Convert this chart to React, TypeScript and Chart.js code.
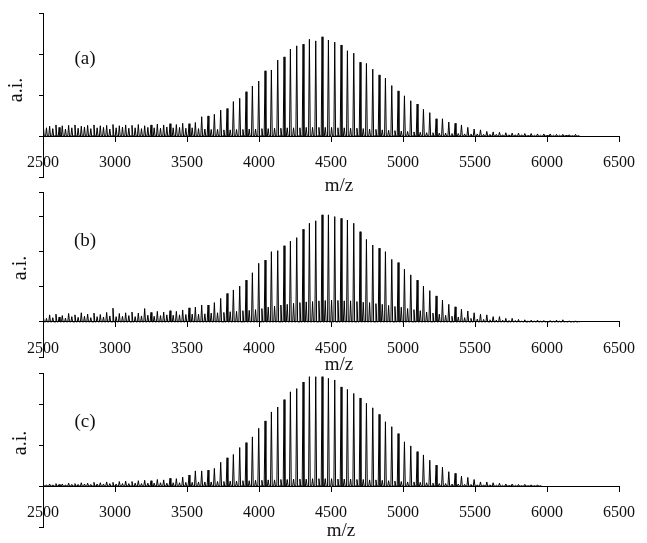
import React, { useEffect, useRef } from "react";
import { Chart, registerables } from "chart.js";

Chart.register(...registerables);

// Oligomer series positions (m/z), one entry per repeat unit
const MZ = [
  2502, 2546, 2590, 2634, 2678, 2722, 2766, 2810, 2854, 2898,
  2942, 2986, 3030, 3074, 3118, 3162, 3206, 3250, 3294, 3338,
  3382, 3426, 3470, 3514, 3558, 3602, 3646, 3690, 3734, 3778,
  3822, 3866, 3910, 3954, 3998, 4042, 4086, 4130, 4174, 4218,
  4262, 4306, 4350, 4394, 4438, 4482, 4526, 4570, 4614, 4658,
  4702, 4746, 4790, 4834, 4878, 4922, 4966, 5010, 5054, 5098,
  5142, 5186, 5230, 5274, 5318, 5362, 5406, 5450, 5494, 5538,
  5582, 5626, 5670, 5714, 5758, 5802, 5846, 5890, 5934, 5978,
  6022, 6066, 6110, 6154, 6198,
];

// Minor (adduct) series sits this many m/z units above each main peak
const ADDUCT_SHIFT = 22;

const X_TICKS = [2500, 3000, 3500, 4000, 4500, 5000, 5500, 6000, 6500];
const Y_TICKS = [-1, 0, 1, 2, 3];

// Spectrum (a)
const MAIN_A = [
  0.26, 0.24, 0.27, 0.25, 0.26, 0.27, 0.24, 0.26, 0.27, 0.25,
  0.26, 0.28, 0.25, 0.27, 0.26, 0.28, 0.25, 0.27, 0.29, 0.27,
  0.30, 0.28, 0.31, 0.30, 0.33, 0.47, 0.49, 0.53, 0.63, 0.67,
  0.84, 0.92, 1.08, 1.22, 1.34, 1.59, 1.61, 1.85, 1.93, 2.12,
  2.20, 2.24, 2.36, 2.32, 2.42, 2.34, 2.29, 2.22, 2.08, 2.02,
  1.80, 1.77, 1.63, 1.49, 1.41, 1.23, 1.10, 0.98, 0.86, 0.78,
  0.65, 0.57, 0.42, 0.42, 0.34, 0.31, 0.27, 0.21, 0.17, 0.15,
  0.11, 0.10, 0.09, 0.08, 0.07, 0.07, 0.06, 0.06, 0.05, 0.05,
  0.05, 0.04, 0.04, 0.03, 0.04,
];
const ADDUCT_A = [
  0.20, 0.18, 0.21, 0.17, 0.20, 0.19, 0.22, 0.18, 0.20, 0.21,
  0.17, 0.20, 0.22, 0.19, 0.20, 0.18, 0.21, 0.20, 0.19, 0.22,
  0.20, 0.21, 0.19, 0.20, 0.18, 0.17, 0.16, 0.16, 0.15, 0.15,
  0.16, 0.16, 0.17, 0.17, 0.18, 0.18, 0.19, 0.19, 0.20, 0.20,
  0.20, 0.21, 0.21, 0.21, 0.21, 0.21, 0.20, 0.20, 0.19, 0.19,
  0.18, 0.17, 0.16, 0.15, 0.14, 0.13, 0.12, 0.11, 0.10, 0.09,
  0.08, 0.08, 0.07, 0.07, 0.06, 0.06, 0.05, 0.05, 0.05, 0.04,
  0.04, 0.04, 0.03, 0.03, 0.03, 0.03, 0.02, 0.02, 0.02, 0.02,
  0.02, 0.02, 0.02, 0.01, 0.01,
];

// Spectrum (b)
const MAIN_B = [
  0.15, 0.20, 0.22, 0.18, 0.24, 0.20, 0.26, 0.22, 0.25, 0.21,
  0.27, 0.39, 0.24, 0.26, 0.28, 0.25, 0.38, 0.27, 0.30, 0.28,
  0.32, 0.30, 0.34, 0.40, 0.42, 0.48, 0.48, 0.55, 0.67, 0.81,
  0.91, 1.02, 1.19, 1.40, 1.67, 1.76, 2.00, 2.03, 2.17, 2.30,
  2.40, 2.64, 2.81, 2.88, 3.05, 3.05, 3.00, 2.95, 2.90, 2.81,
  2.57, 2.35, 2.19, 2.10, 2.00, 1.78, 1.69, 1.50, 1.34, 1.19,
  1.02, 0.89, 0.74, 0.62, 0.50, 0.43, 0.36, 0.31, 0.26, 0.22,
  0.20, 0.15, 0.15, 0.10, 0.10, 0.07, 0.06, 0.05, 0.05, 0.04,
  0.04, 0.05, 0.06, 0.03, 0.03,
];
const ADDUCT_B = [
  0.10, 0.12, 0.14, 0.11, 0.15, 0.13, 0.16, 0.12, 0.15, 0.14,
  0.17, 0.15, 0.16, 0.18, 0.15, 0.17, 0.19, 0.16, 0.18, 0.20,
  0.19, 0.20, 0.21, 0.22, 0.22, 0.23, 0.25, 0.26, 0.27, 0.29,
  0.30, 0.32, 0.33, 0.35, 0.38, 0.42, 0.45, 0.48, 0.50, 0.53,
  0.55, 0.57, 0.58, 0.60, 0.61, 0.62, 0.61, 0.60, 0.60, 0.58,
  0.56, 0.55, 0.52, 0.50, 0.47, 0.44, 0.42, 0.38, 0.35, 0.32,
  0.28, 0.25, 0.22, 0.19, 0.16, 0.14, 0.12, 0.10, 0.08, 0.07,
  0.06, 0.05, 0.05, 0.04, 0.04, 0.03, 0.03, 0.03, 0.02, 0.02,
  0.02, 0.02, 0.02, 0.01, 0.01,
];

// Spectrum (c)
const MAIN_C = [
  0.04, 0.05, 0.06, 0.05, 0.07, 0.06, 0.08, 0.07, 0.09, 0.08,
  0.10, 0.09, 0.11, 0.12, 0.11, 0.13, 0.14, 0.13, 0.16, 0.15,
  0.19, 0.18, 0.22, 0.27, 0.37, 0.37, 0.39, 0.43, 0.58, 0.69,
  0.77, 0.94, 1.06, 1.20, 1.41, 1.59, 1.81, 1.93, 2.11, 2.30,
  2.38, 2.54, 2.67, 2.67, 2.67, 2.63, 2.59, 2.42, 2.36, 2.26,
  2.15, 2.02, 1.91, 1.75, 1.57, 1.45, 1.28, 1.08, 0.98, 0.84,
  0.76, 0.63, 0.51, 0.46, 0.35, 0.31, 0.24, 0.21, 0.16, 0.10,
  0.10, 0.08, 0.07, 0.05, 0.05, 0.04, 0.04, 0.03, 0.03, 0,
  0, 0, 0, 0, 0,
];
const ADDUCT_C = [
  0.03, 0.03, 0.04, 0.03, 0.04, 0.04, 0.05, 0.04, 0.05, 0.05,
  0.06, 0.05, 0.06, 0.06, 0.07, 0.06, 0.07, 0.07, 0.08, 0.07,
  0.08, 0.08, 0.09, 0.09, 0.10, 0.10, 0.10, 0.11, 0.11, 0.12,
  0.12, 0.13, 0.13, 0.14, 0.14, 0.15, 0.15, 0.16, 0.16, 0.17,
  0.17, 0.17, 0.18, 0.18, 0.18, 0.18, 0.17, 0.17, 0.17, 0.16,
  0.16, 0.15, 0.15, 0.14, 0.13, 0.12, 0.11, 0.10, 0.10, 0.09,
  0.08, 0.07, 0.06, 0.06, 0.05, 0.05, 0.04, 0.04, 0.03, 0.03,
  0.03, 0.02, 0.02, 0.02, 0.02, 0.01, 0.01, 0.01, 0.01, 0,
  0, 0, 0, 0, 0,
];

const TAGS = ["(a)", "(b)", "(c)"];
const Y_MAXES = [3, 3.7, 2.76];

// Page geometry of each panel
const W = 647;
const H = 543;
const FONT = '"Liberation Serif", "Times New Roman", serif';
const PANELS = [
  { top: 13, bottom: 177, tag: [85, 59], yTitle: [17, 90], xTitle: [339, 186] },
  { top: 192, bottom: 357, tag: [85, 241], yTitle: [21, 268], xTitle: [339, 365] },
  { top: 373, bottom: 527, tag: [85, 422], yTitle: [21, 443], xTitle: [341, 531] },
];
const PEAK_HALF_WIDTH = 6;

type Pt = { x: number; y: number };

function stickProfile(main: number[], adduct: number[]): Pt[] {
  const pts: Pt[] = [];
  MZ.forEach((m, i) => {
    const peaks: [number, number][] = [
      [m, main[i]],
      [m + ADDUCT_SHIFT, adduct[i]],
    ];
    peaks.forEach(([c, h]) => {
      if (!h) return;
      pts.push({ x: c - PEAK_HALF_WIDTH, y: 0 });
      pts.push({ x: c, y: h });
      pts.push({ x: c + PEAK_HALF_WIDTH, y: 0 });
    });
  });
  return pts;
}

const panelText = {
  id: "panelText",
  afterDraw(chart: any, _args: any, opts: any) {
    const { ctx } = chart;
    ctx.save();
    ctx.fillStyle = "#111";
    ctx.textAlign = "center";
    ctx.textBaseline = "middle";
    ctx.font = `19px ${FONT}`;
    ctx.fillText(opts.tag, opts.tagPos[0], opts.tagPos[1]);
    ctx.fillText("m/z", opts.xTitle[0], opts.xTitle[1]);
    ctx.font = `20px ${FONT}`;
    ctx.translate(opts.yTitle[0], opts.yTitle[1]);
    ctx.rotate(-Math.PI / 2);
    ctx.fillText("a.i.", 0, 0);
    ctx.restore();
  },
};

function SpectrumPanel({ index, main, adduct }: { index: number; main: number[]; adduct: number[] }) {
  const ref = useRef<HTMLCanvasElement>(null);
  useEffect(() => {
    const p = PANELS[index];
    const yMax = Y_MAXES[index];
    const yTicks = Y_TICKS.filter((v) => v < yMax - 0.05).concat([yMax]);
    const chart = new Chart(ref.current as HTMLCanvasElement, {
      type: "line",
      data: {
        datasets: [
          {
            data: stickProfile(main, adduct),
            borderColor: "#000",
            borderWidth: 1,
            pointRadius: 0,
            tension: 0,
            fill: false,
          },
        ],
      },
      options: {
        animation: false,
        responsive: false,
        devicePixelRatio: 1,
        events: [],
        layout: { padding: { left: 0, right: W - 627, top: p.top, bottom: H - p.bottom } },
        plugins: {
          legend: { display: false },
          tooltip: { enabled: false },
          panelText: { tag: TAGS[index], tagPos: p.tag, xTitle: p.xTitle, yTitle: p.yTitle },
        } as any,
        scales: {
          x: {
            type: "linear",
            min: 2500,
            max: 6500,
            position: { y: 0 } as any,
            afterBuildTicks: (s: any) => {
              s.ticks = X_TICKS.map((v) => ({ value: v }));
            },
            ticks: {
              autoSkip: false,
              maxRotation: 0,
              padding: 12,
              color: "#111",
              font: { family: FONT, size: 16 },
              callback: (v: any) => String(v),
            },
            grid: { drawOnChartArea: false, drawTicks: true, tickLength: 5, tickColor: "#000" },
            border: { display: true, color: "#000", width: 1 },
          },
          y: {
            type: "linear",
            min: -1,
            max: yMax,
            position: "left",
            afterBuildTicks: (s: any) => {
              s.ticks = yTicks.map((v) => ({ value: v }));
            },
            afterFit: (s: any) => {
              s.width = 43;
            },
            ticks: { display: false },
            grid: { drawOnChartArea: false, drawTicks: true, tickLength: 4, tickColor: "#000" },
            border: { display: true, color: "#000", width: 1 },
          },
        },
      },
      plugins: [panelText],
    });
    return () => chart.destroy();
  }, [index, main, adduct]);
  return (
    <canvas
      ref={ref}
      width={W}
      height={H}
      style={{ position: "absolute", left: 0, top: 0, width: W, height: H }}
    />
  );
}

export default function App() {
  return (
    <div style={{ position: "fixed", left: 0, top: 0, width: W, height: H, background: "#fff" }}>
      <SpectrumPanel index={0} main={MAIN_A} adduct={ADDUCT_A} />
      <SpectrumPanel index={1} main={MAIN_B} adduct={ADDUCT_B} />
      <SpectrumPanel index={2} main={MAIN_C} adduct={ADDUCT_C} />
    </div>
  );
}
